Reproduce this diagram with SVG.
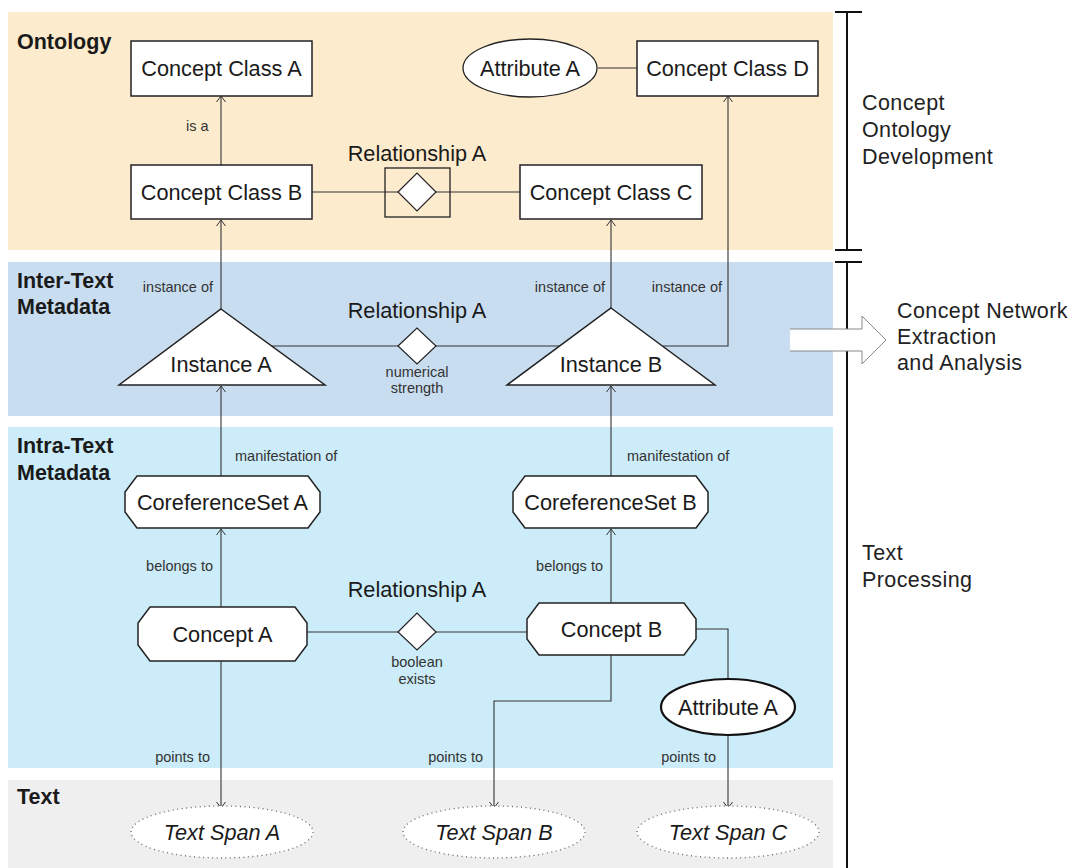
<svg xmlns="http://www.w3.org/2000/svg" width="1074" height="868" viewBox="0 0 1074 868">
<style>
text{font-family:"Liberation Sans",Arial,sans-serif;fill:#1a1a1a}
.n{font-size:21.7px;text-anchor:middle}
.s{font-size:14.5px;fill:#333}
.c{text-anchor:middle}
.e{text-anchor:end}
.h{font-size:21.5px;font-weight:bold}
.r{font-size:21.5px;fill:#222;letter-spacing:0.4px}
.i{font-size:21.7px;font-style:italic;text-anchor:middle}
.box{fill:#fff;stroke:#222;stroke-width:1.5}
.ln{fill:none;stroke:#333;stroke-width:1.1}
.dot{fill:#fff;stroke:#666;stroke-width:1.3;stroke-dasharray:1 3.5}
</style>
<defs>
<marker id="ar" markerWidth="12" markerHeight="12" refX="10" refY="6" orient="auto" markerUnits="userSpaceOnUse">
<path d="M4,1.5 L10,6 L4,10.5" fill="none" stroke="#333" stroke-width="1"/>
</marker>
</defs>
<rect width="1074" height="868" fill="#fff"/>
<g id="bands">
<rect x="8" y="12" width="825" height="238" fill="#fcebcd"/>
<rect x="8" y="262" width="825" height="154" fill="#c9ddf0"/>
<rect x="8" y="427" width="825" height="341" fill="#cbecf8"/>
<rect x="8" y="780" width="825" height="88" fill="#efefef"/>
<text class="h" x="17" y="49">Ontology</text>
<text class="h" x="17" y="288">Inter-Text</text>
<text class="h" x="17" y="314">Metadata</text>
<text class="h" x="17" y="453">Intra-Text</text>
<text class="h" x="17" y="480">Metadata</text>
<text class="h" x="17" y="804">Text</text>
</g>
<g id="bracket" stroke="#111" stroke-width="2" fill="none">
<line x1="847" y1="12" x2="847" y2="250"/>
<line x1="847" y1="262" x2="847" y2="868"/>
<line x1="835" y1="12" x2="862" y2="12"/>
<line x1="835" y1="250" x2="862" y2="250"/>
<line x1="835" y1="262" x2="862" y2="262"/>
</g>
<g id="phase-labels">
<text class="r" x="862" y="110">Concept</text>
<text class="r" x="862" y="137">Ontology</text>
<text class="r" x="862" y="164">Development</text>
<text class="r" x="897" y="318">Concept Network</text>
<text class="r" x="897" y="344">Extraction</text>
<text class="r" x="897" y="370">and Analysis</text>
<text class="r" x="862" y="560">Text</text>
<text class="r" x="862" y="587">Processing</text>
</g>
<g id="output-arrow">
<path d="M790,329 L862,329 L862,316 L886,340 L862,364 L862,351 L790,351" fill="#fff" stroke="#888" stroke-width="1"/>
</g>
<g id="connectors">
<line class="ln" x1="221" y1="165" x2="221" y2="96" marker-end="url(#ar)"/>
<line class="ln" x1="312" y1="192" x2="520" y2="192"/>
<line class="ln" x1="598" y1="68" x2="637" y2="68"/>
<line class="ln" x1="221" y1="309" x2="221" y2="220" marker-end="url(#ar)"/>
<line class="ln" x1="611" y1="308" x2="611" y2="220" marker-end="url(#ar)"/>
<polyline class="ln" points="663,346 728,346 728,96" marker-end="url(#ar)"/>
<line class="ln" x1="221" y1="346" x2="611" y2="346"/>
<line class="ln" x1="221" y1="476" x2="221" y2="386" marker-end="url(#ar)"/>
<line class="ln" x1="611" y1="476" x2="611" y2="386" marker-end="url(#ar)"/>
<line class="ln" x1="221" y1="607" x2="221" y2="529" marker-end="url(#ar)"/>
<line class="ln" x1="611" y1="603" x2="611" y2="529" marker-end="url(#ar)"/>
<line class="ln" x1="307" y1="632" x2="527" y2="632"/>
<line class="ln" x1="221" y1="661" x2="221" y2="808" marker-end="url(#ar)"/>
<polyline class="ln" points="611,655 611,701 494,701 494,808" marker-end="url(#ar)"/>
<polyline class="ln" points="696,629 728,629 728,679"/>
<line class="ln" x1="728" y1="735" x2="728" y2="808" marker-end="url(#ar)"/>
<text class="s" x="186" y="131">is a</text>
<text class="s e" x="213" y="292">instance of</text>
<text class="s e" x="605" y="292">instance of</text>
<text class="s e" x="722" y="292">instance of</text>
<text class="s" x="235" y="461">manifestation of</text>
<text class="s" x="627" y="461">manifestation of</text>
<text class="s e" x="213" y="571">belongs to</text>
<text class="s e" x="603" y="571">belongs to</text>
<text class="s e" x="210" y="762">points to</text>
<text class="s e" x="483" y="762">points to</text>
<text class="s e" x="716" y="762">points to</text>
</g>
<g id="concept-class-a">
<rect class="box" x="131" y="41" width="181" height="55"/>
<text class="n" x="221.5" y="76">Concept Class A</text>
</g>
<g id="concept-class-b">
<rect class="box" x="131" y="165" width="181" height="54"/>
<text class="n" x="221.5" y="200">Concept Class B</text>
</g>
<g id="relationship-ontology">
<text class="n" x="417" y="161">Relationship A</text>
<rect x="385" y="168" width="65" height="49" fill="none" stroke="#222" stroke-width="1.3"/>
<polygon class="box" points="398,192 417,173 436,192 417,211" style="stroke-width:1.2"/>
</g>
<g id="concept-class-c">
<rect class="box" x="520" y="165" width="182" height="54"/>
<text class="n" x="611" y="200">Concept Class C</text>
</g>
<g id="attribute-a-ontology">
<ellipse class="box" cx="530" cy="68" rx="67" ry="29" style="stroke-width:1.3"/>
<text class="n" x="530" y="76">Attribute A</text>
</g>
<g id="concept-class-d">
<rect class="box" x="637" y="41" width="181" height="55"/>
<text class="n" x="727.5" y="76">Concept Class D</text>
</g>
<g id="instance-a">
<polygon class="box" points="221,309 325,385 119,385"/>
<text class="n" x="221" y="372">Instance A</text>
</g>
<g id="relationship-inter">
<text class="n" x="417" y="318">Relationship A</text>
<polygon class="box" points="398,346 417,328 436,346 417,364" style="stroke-width:1.2"/>
<text class="s c" x="417" y="377">numerical</text>
<text class="s c" x="417" y="393">strength</text>
</g>
<g id="instance-b">
<polygon class="box" points="611,308 715,385 507,385"/>
<text class="n" x="611" y="372">Instance B</text>
</g>
<g id="coreferenceset-a">
<polygon class="box" points="137,476 308,476 320,492 320,512 308,528 137,528 125,512 125,492"/>
<text class="n" x="222.5" y="510">CoreferenceSet A</text>
</g>
<g id="coreferenceset-b">
<polygon class="box" points="525,476 696,476 708,492 708,512 696,528 525,528 513,512 513,492"/>
<text class="n" x="610.5" y="510">CoreferenceSet B</text>
</g>
<g id="concept-a">
<polygon class="box" points="150,607 295,607 307,623 307,645 295,661 150,661 138,645 138,623"/>
<text class="n" x="222.5" y="642">Concept A</text>
</g>
<g id="relationship-intra">
<text class="n" x="417" y="597">Relationship A</text>
<polygon class="box" points="398,632 417,613 436,632 417,650" style="stroke-width:1.2"/>
<text class="s c" x="417" y="667">boolean</text>
<text class="s c" x="417" y="684">exists</text>
</g>
<g id="concept-b">
<polygon class="box" points="539,603 684,603 696,619 696,639 684,655 539,655 527,639 527,619"/>
<text class="n" x="611.5" y="637">Concept B</text>
</g>
<g id="attribute-a-intra">
<ellipse cx="728" cy="707" rx="67" ry="28" fill="#fff" stroke="#111" stroke-width="2.2"/>
<text class="n" x="728" y="715">Attribute A</text>
</g>
<g id="text-span-a">
<ellipse class="dot" cx="222" cy="832" rx="91" ry="26"/>
<text class="i" x="222" y="840">Text Span A</text>
</g>
<g id="text-span-b">
<ellipse class="dot" cx="494" cy="832" rx="91" ry="26"/>
<text class="i" x="494" y="840">Text Span B</text>
</g>
<g id="text-span-c">
<ellipse class="dot" cx="728" cy="832" rx="91" ry="26"/>
<text class="i" x="728" y="840">Text Span C</text>
</g>
</svg>
